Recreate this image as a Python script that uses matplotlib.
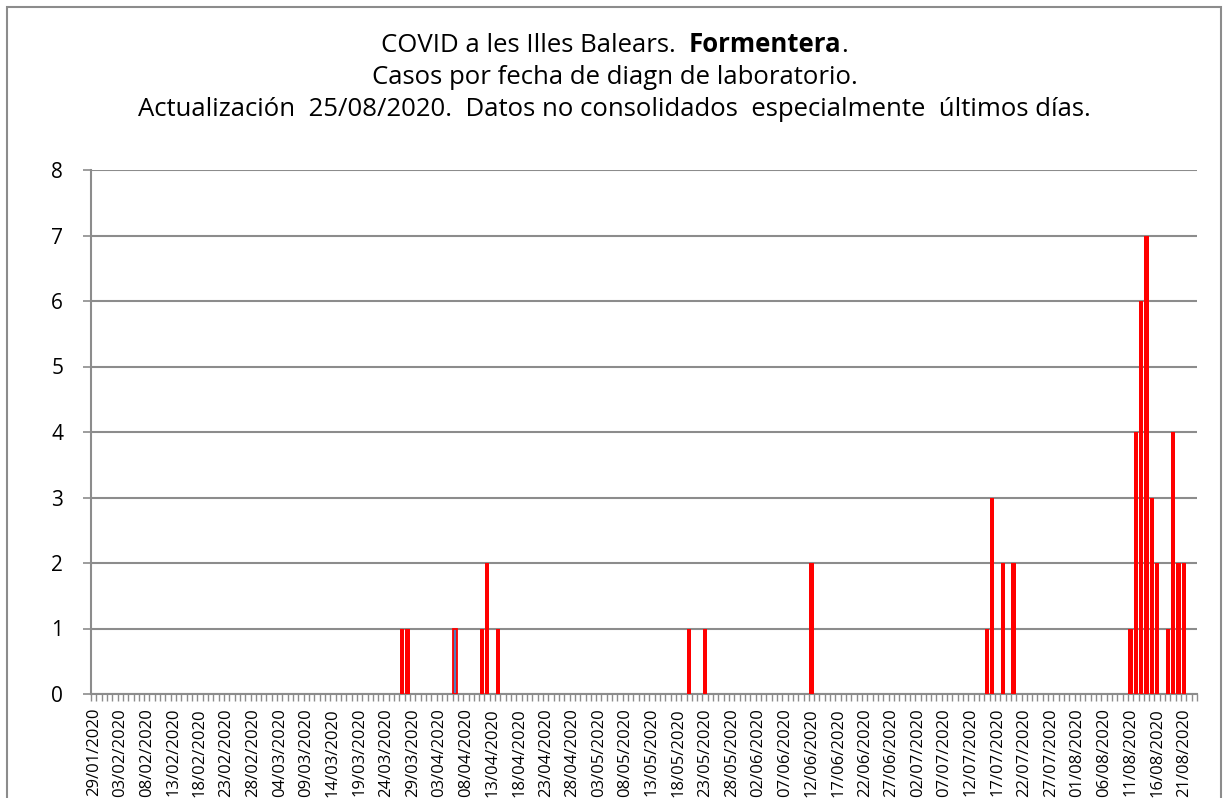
import matplotlib
matplotlib.use("Agg")
import matplotlib.pyplot as plt
from matplotlib.patches import Rectangle
import pandas as pd
import numpy as np

plt.rcParams['font.family'] = ['Open Sans', 'DejaVu Sans']

# axis categories: one per day
first_day = "2020-01-29"
last_day = "2020-08-23"

# days with confirmed cases (all other days are 0)
case_dates = ["2020-03-27", "2020-03-28", "2020-04-06", "2020-04-11", "2020-04-12",
              "2020-04-14", "2020-05-20", "2020-05-23", "2020-06-12", "2020-07-15",
              "2020-07-16", "2020-07-18", "2020-07-20", "2020-08-11", "2020-08-12",
              "2020-08-13", "2020-08-14", "2020-08-15", "2020-08-16", "2020-08-18",
              "2020-08-19", "2020-08-20", "2020-08-21"]
case_counts = [1, 1, 1, 1, 2,
               1, 1, 1, 2, 1,
               3, 2, 2, 1, 4,
               6, 7, 3, 2, 1,
               4, 2, 2]
blue_dates = ["2020-04-06"]

days = pd.date_range(first_day, last_day, freq="D")
cases = pd.Series(case_counts, index=pd.to_datetime(case_dates)).reindex(days, fill_value=0)
labels = [d.strftime("%d/%m/%Y") for d in days]
x = np.arange(len(days))

W, H = 1229, 798
fig = plt.figure(figsize=(W / 100, H / 100), dpi=100)
ax = fig.add_axes([91 / W, 1 - 694 / H, (1197 - 91) / W, (694 - 170) / H])

is_blue = np.array([d.strftime("%Y-%m-%d") in blue_dates for d in days])
ax.bar(x[~is_blue], cases.values[~is_blue], width=0.82, color='#FF0000', linewidth=0, zorder=3)
ax.bar(x[is_blue], cases.values[is_blue], width=0.82, color='#4F81BD', edgecolor='#FF0000',
       linewidth=1.3, zorder=3)

ax.set_xlim(-0.5, len(days) - 0.5)
ax.set_ylim(0, 8)
ax.set_yticks(range(0, 9))
ax.yaxis.grid(True, color='#8C8C8C', linewidth=1.5, zorder=0)
ax.set_axisbelow(True)

ax.set_xticks(x[::5])
ax.set_xticklabels(labels[::5], rotation=90, fontsize=12, va='top')
ax.set_xticks(np.arange(-0.5, len(days), 1), minor=True)
ax.tick_params(axis='x', which='major', length=0, pad=10)
ax.tick_params(axis='x', which='minor', length=5, width=1, color='#8C8C8C')
ax.tick_params(axis='y', length=6, width=1.2, color='#8C8C8C', labelsize=15, pad=14)

for s in ['top', 'right']:
    ax.spines[s].set_visible(False)
for s in ['left', 'bottom']:
    ax.spines[s].set_color('#8C8C8C')
    ax.spines[s].set_linewidth(1.5)

# title: three centred lines, the island name in bold
cx = 0.5
tsize = 18.5
fig.canvas.draw()
r = fig.canvas.get_renderer()
parts = [("COVID a les Illes Balears.  ", 'normal'), ("Formentera", 'bold'), (".", 'normal')]
texts = [fig.text(0, 1 - 45 / H, p, fontsize=tsize, fontweight=w, va='center', ha='left') for p, w in parts]
widths = [t.get_window_extent(r).width / W for t in texts]
xpos = cx - sum(widths) / 2
for t, w in zip(texts, widths):
    t.set_x(xpos)
    xpos += w
fig.text(cx, 1 - 77 / H, "Casos por fecha de diagn de laboratorio.", fontsize=tsize, ha='center', va='center')
fig.text(cx, 1 - 109 / H, "Actualización  25/08/2020.  Datos no consolidados  especialmente  últimos días.",
         fontsize=tsize, ha='center', va='center')

# chart area border
fig.patches.append(Rectangle((7 / W, -0.1), (1221 - 7) / W, 1.1 - 7 / H, transform=fig.transFigure,
                             fill=False, edgecolor='#8C8C8C', linewidth=1.5))

fig.savefig("out.png", dpi=100)
